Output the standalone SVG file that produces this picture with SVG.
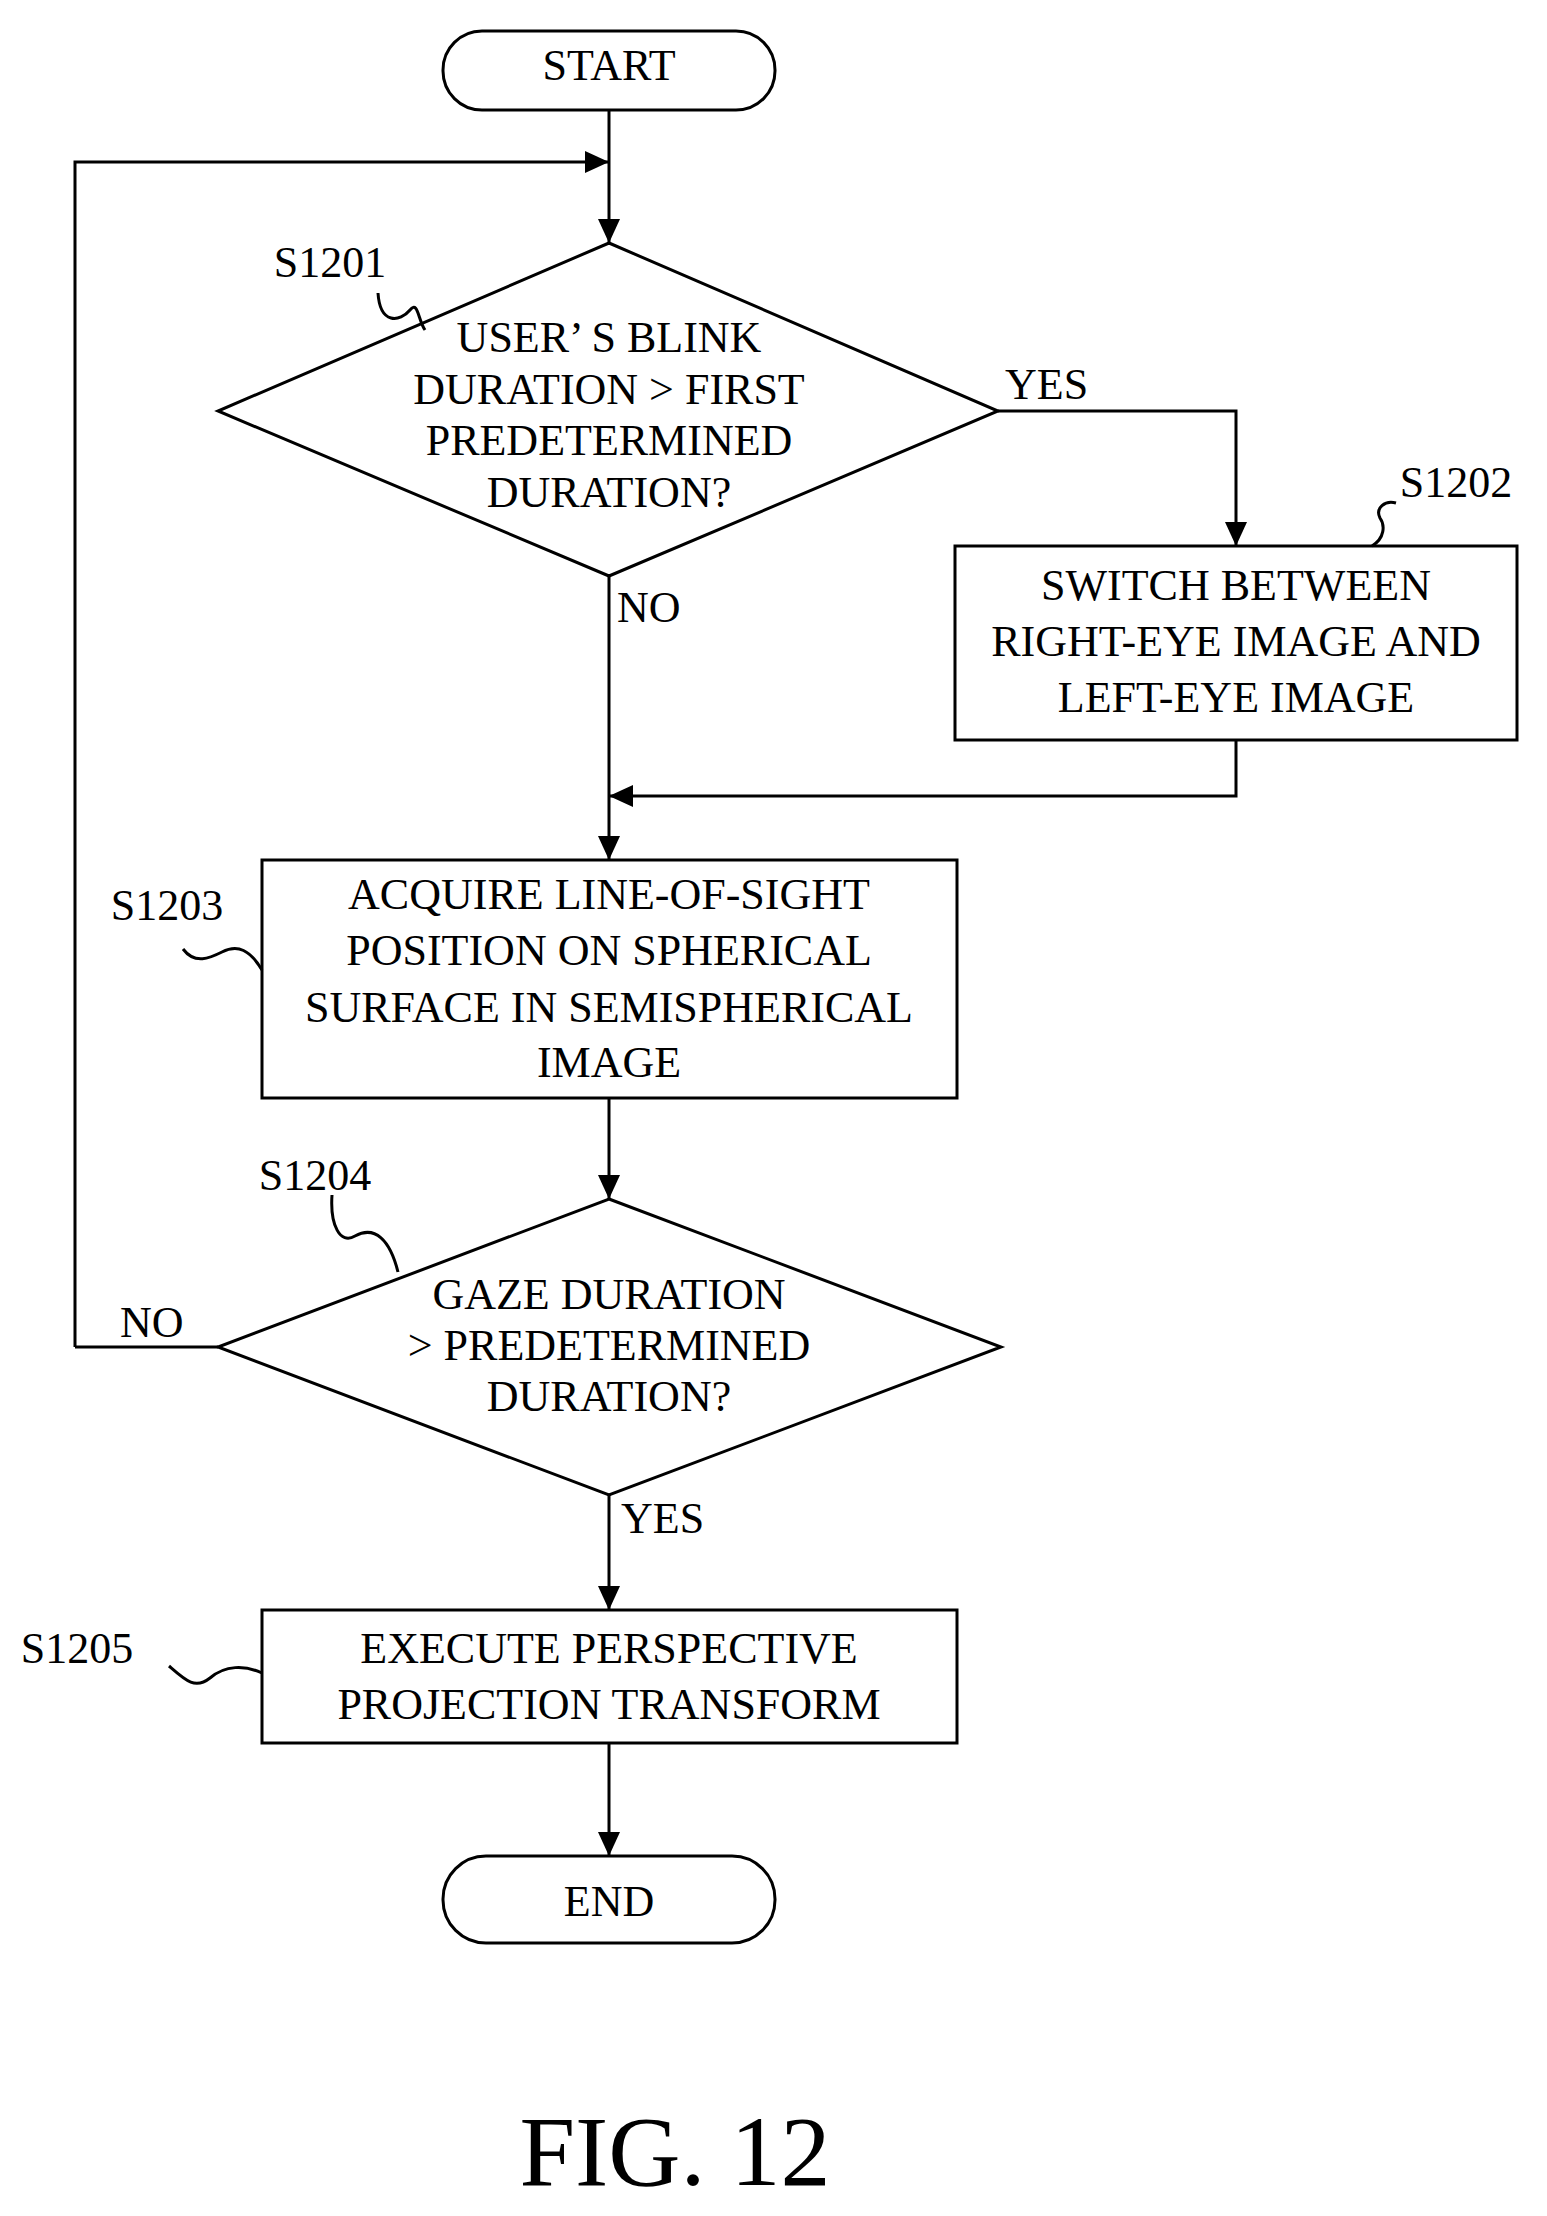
<svg xmlns="http://www.w3.org/2000/svg" width="1547" height="2216" viewBox="0 0 1547 2216">
<style>
.s{fill:#fff;stroke:#000;stroke-width:3}
.l{fill:none;stroke:#000;stroke-width:3}
text{font-family:"Liberation Serif","Times New Roman",serif;font-size:44px;fill:#000;text-anchor:middle}
.lb{text-anchor:start}
.fig{font-size:100px}
</style>
<defs><marker id="a" markerWidth="12" markerHeight="10" refX="12" refY="5" orient="auto" markerUnits="userSpaceOnUse" viewBox="0 0 12 10"><path d="M0,0 L12,5 L0,10z" fill="#000"/></marker>
<marker id="b" markerWidth="24" markerHeight="22" refX="24" refY="11" orient="auto" markerUnits="userSpaceOnUse" viewBox="0 0 24 22"><path d="M0,0 L24,11 L0,22z" fill="#000"/></marker></defs>
<rect width="1547" height="2216" fill="#fff"/>
<g id="connectors">
<path class="l" d="M609,110 V243" marker-end="url(#b)"/>
<path class="l" d="M75,1347 V162 H609" marker-end="url(#b)"/>
<path class="l" d="M218,1347 H75"/>
<path class="l" d="M998,411 H1236 V546" marker-end="url(#b)"/>
<path class="l" d="M609,576 V860" marker-end="url(#b)"/>
<path class="l" d="M1236,740 V796 H609" marker-end="url(#b)"/>
<path class="l" d="M609,1098 V1199" marker-end="url(#b)"/>
<path class="l" d="M609,1495 V1610" marker-end="url(#b)"/>
<path class="l" d="M609,1743 V1856" marker-end="url(#b)"/>
<text x="1005" y="399" class="lb">YES</text>
<text x="617" y="622" class="lb">NO</text>
<text x="120" y="1337" class="lb">NO</text>
<text x="621" y="1533" class="lb">YES</text>
</g>
<g id="start"><rect class="s" x="443" y="31" width="332" height="79" rx="39"/><text x="609" y="80">START</text></g>
<g id="S1201"><path class="s" d="M609,243 L998,411 L609,576 L218,411Z"/>
<text x="609" y="352">USER’ S BLINK</text><text x="609" y="404">DURATION &gt; FIRST</text><text x="609" y="455">PREDETERMINED</text><text x="609" y="507">DURATION?</text>
<text x="330" y="277">S1201</text><path class="l" d="M378,293 C380,325 400,322 410,310 C418,300 418,320 425,330"/></g>
<g id="S1202"><rect class="s" x="955" y="546" width="562" height="194"/>
<text x="1236" y="600">SWITCH BETWEEN</text><text x="1236" y="656">RIGHT-EYE IMAGE AND</text><text x="1236" y="712">LEFT-EYE IMAGE</text>
<text x="1456" y="497">S1202</text><path class="l" d="M1372,546 C1385,538 1385,525 1380,518 C1375,508 1385,500 1396,503"/></g>
<g id="S1203"><rect class="s" x="262" y="860" width="695" height="238"/>
<text x="609" y="909">ACQUIRE LINE-OF-SIGHT</text><text x="609" y="965">POSITION ON SPHERICAL</text><text x="609" y="1022">SURFACE IN SEMISPHERICAL</text><text x="609" y="1077">IMAGE</text>
<text x="167" y="920">S1203</text><path class="l" d="M183,949 C195,965 210,958 222,952 C238,944 250,950 262,970"/></g>
<g id="S1204"><path class="s" d="M609,1199 L1001,1347 L609,1495 L218,1347Z"/>
<text x="609" y="1309">GAZE DURATION</text><text x="609" y="1360">&gt; PREDETERMINED</text><text x="609" y="1411">DURATION?</text>
<text x="315" y="1190">S1204</text><path class="l" d="M332,1195 C330,1225 340,1245 355,1236 C375,1225 390,1240 398,1272"/></g>
<g id="S1205"><rect class="s" x="262" y="1610" width="695" height="133"/>
<text x="609" y="1663">EXECUTE PERSPECTIVE</text><text x="609" y="1719">PROJECTION TRANSFORM</text>
<text x="77" y="1663">S1205</text><path class="l" d="M169,1666 C185,1680 195,1690 210,1678 C225,1665 245,1665 262,1673"/></g>
<g id="end"><rect class="s" x="443" y="1856" width="332" height="87" rx="43"/><text x="609" y="1916">END</text></g>
<text class="fig" x="675" y="2185">FIG. 12</text>
</svg>
